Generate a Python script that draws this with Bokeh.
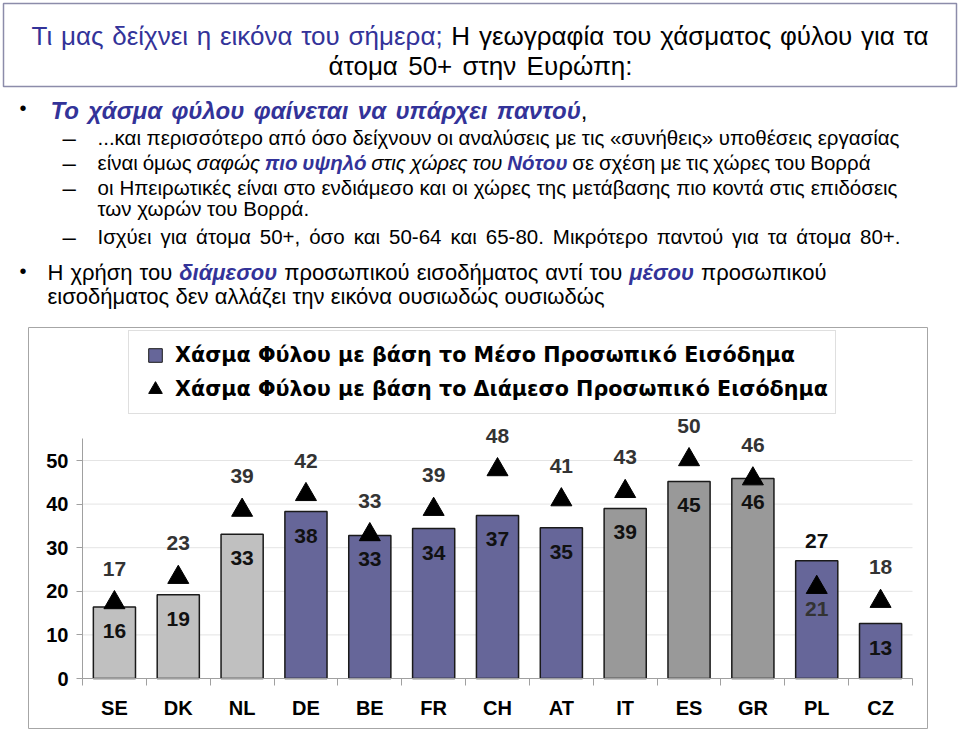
import numpy as np
from bokeh.plotting import figure
from bokeh.layouts import column
from bokeh.models import (ColumnDataSource, Range1d, LinearAxis, FixedTicker,
                          Legend, LegendItem, CustomJSTransform)
from bokeh.transform import transform
from bokeh.core.properties import value, field
from bokeh.embed import file_html
from bokeh.resources import INLINE

# ---------------- data ----------------
countries = ["SE", "DK", "NL", "DE", "BE", "FR", "CH", "AT", "IT", "ES", "GR", "PL", "CZ"]
groups = ["Βορράς", "Βορράς", "Βορράς",
          "Ηπειρωτικές", "Ηπειρωτικές", "Ηπειρωτικές", "Ηπειρωτικές", "Ηπειρωτικές",
          "Νότος", "Νότος", "Νότος",
          "Μετάβαση", "Μετάβαση"]
gap_mean_income = [16.4, 19.2, 33.1, 38.3, 32.8, 34.4, 37.4, 34.6, 39.0, 45.2, 45.9, 27.0, 12.6]
gap_median_income = [17.4, 23.2, 38.6, 42.2, 33.0, 38.8, 47.9, 41.0, 42.9, 50.2, 45.8, 20.9, 17.7]
y_ticks = [0, 10, 20, 30, 40, 50]
legend_labels = ["Χάσμα Φύλου με βάση το Μέσο Προσωπικό Εισόδημα",
                 "Χάσμα Φύλου με βάση το Διάμεσο Προσωπικό Εισόδημα"]

GROUP_COLORS = {"Βορράς": "#C0C0C0", "Ηπειρωτικές": "#666699",
                "Νότος": "#999999", "Μετάβαση": "#666699"}

# ---------------- page geometry ----------------
W = 960
HEAD_H = 326
CHART_H = 403
FONT = "Liberation Sans"
BLUE = "#333399"

# ---------------- header (title + bullets) ----------------
STYLES = {"n": ("normal", "#000000"), "i": ("italic", "#000000"),
          "bi": ("bold italic", BLUE), "tb": ("normal", BLUE)}

header_lines = [
    # left, right (None = natural width), y, size, parts
    (31, 928, 35, 26, [("Τι μας δείχνει η εικόνα του σήμερα;", "tb"),
                       (" Η γεωγραφία του χάσματος φύλου για τα", "n")]),
    (328, 632, 65, 26, [("άτομα 50+ στην Ευρώπη:", "n")]),
    (19, None, 107, 20, [("•", "n")]),
    (50, 587, 110, 24, [("Το χάσμα φύλου φαίνεται να υπάρχει παντού", "bi"), (",", "n")]),
    (62, None, 137, 24, [("–", "n")]),
    (97, 899, 137, 20.5,
     [("...και περισσότερο από όσο δείχνουν οι αναλύσεις με τις «συνήθεις» υποθέσεις εργασίας", "n")]),
    (62, None, 162, 24, [("–", "n")]),
    (97, 870, 162, 20.5,
     [("είναι όμως", "n"), (" σαφώς", "i"), (" πιο υψηλό", "bi"),
      (" στις χώρες του", "i"), (" Νότου", "bi"),
      (" σε σχέση με τις χώρες του Βορρά", "n")]),
    (62, None, 187, 24, [("–", "n")]),
    (97, 897, 187, 20.5,
     [("οι Ηπειρωτικές είναι στο ενδιάμεσο και οι χώρες της μετάβασης πιο κοντά στις επιδόσεις", "n")]),
    (97, None, 208, 20.5, [("των χωρών του Βορρά.", "n")]),
    (62, None, 236, 24, [("–", "n")]),
    (97, 900, 236, 20.5,
     [("Ισχύει για άτομα 50+, όσο και 50-64 και 65-80. Μικρότερο παντού για τα άτομα 80+.", "n")]),
    (19, None, 270, 20, [("•", "n")]),
    (47, 826, 272, 22,
     [("Η χρήση του", "n"), (" διάμεσου", "bi"), (" προσωπικού εισοδήματος αντί του", "n"),
      (" μέσου", "bi"), (" προσωπικού", "n")]),
    (47, 604, 296, 22,
     [("εισοδήματος δεν αλλάζει την εικόνα ουσιωδώς ουσιωδώς", "n")]),
]

cols = dict(text=[], x0=[], y=[], size=[], fsize=[], fstyle=[], color=[],
            lid=[], sp=[], jw=[])
for lid, (xl, xr, yp, size, parts) in enumerate(header_lines):
    for txt, sk in parts:
        fs, colr = STYLES[sk]
        lead = txt.startswith(" ")
        for k, tok in enumerate(t for t in txt.split(" ") if t):
            cols["text"].append(tok)
            cols["x0"].append(xl)
            cols["y"].append(yp)
            cols["size"].append(size)
            cols["fsize"].append(f"{size}px")
            cols["fstyle"].append(fs)
            cols["color"].append(colr)
            cols["lid"].append(lid)
            cols["sp"].append(1 if (k > 0 or lead) else 0)
            cols["jw"].append((xr - xl) if xr else 0)
hsrc = ColumnDataSource(cols)

# lays the styled words of every line one after another (measured in the browser),
# spreading word gaps so that a line reaches its given width
layout_js = """
const d = src.data;
const n = d.text.length;
const out = new Float64Array(n);
const c = document.createElement('canvas').getContext('2d');
function w(k, s) {
  c.font = d.fstyle[k] + ' ' + d.size[k] + 'px "Liberation Sans"';
  return c.measureText(s).width;
}
let i = 0;
while (i < n) {
  let j = i;
  while (j < n && d.lid[j] == d.lid[i]) j++;
  const tw = [], sw = [];
  let total = 0, nsp = 0;
  for (let k = i; k < j; k++) {
    const a = w(k, d.text[k]);
    const b = d.sp[k] ? w(k, ' ') : 0;
    tw.push(a); sw.push(b); total += a + b;
    if (d.sp[k]) nsp++;
  }
  let x = d.x0[i];
  let extra = 0;
  if (d.jw[i] > 0 && nsp > 0) extra = (d.jw[i] - total) / nsp;
  for (let k = i; k < j; k++) {
    if (d.sp[k]) x += sw[k - i] + extra;
    out[k] = x;
    x += tw[k - i];
  }
  i = j;
}
return out;
"""

hp = figure(width=W, height=HEAD_H, x_range=Range1d(0, W), y_range=Range1d(HEAD_H, 0),
            output_backend="svg", toolbar_location=None,
            x_axis_location=None, y_axis_location=None,
            min_border=0, min_border_left=0, min_border_right=0,
            min_border_top=0, min_border_bottom=0)
hp.grid.visible = False
hp.outline_line_color = None
hp.background_fill_color = "white"
hp.border_fill_color = "white"

# title frame
hp.quad(left=3, right=956, top=3, bottom=86, fill_color=None,
        line_color="#8C8CAA", line_width=1.5)

hp.text(x=transform("x0", CustomJSTransform(args=dict(src=hsrc), v_func=layout_js)),
        y="y", text="text", source=hsrc,
        text_font=value(FONT), text_font_size=field("fsize"),
        text_font_style=field("fstyle"), text_color="color",
        text_align="left", text_baseline="middle")

# ---------------- chart ----------------
n = len(countries)
xc = list(range(n))

# pixel layout (page coordinates); the chart figure spans page y 326..729
chart_top = HEAD_H
chart_bot = HEAD_H + CHART_H
plot_l, plot_r = 82, 912
y0_px, y50_px = 678, 460
sx = (plot_r - plot_l) / n
sy = (y0_px - y50_px) / 50.0
x_start = -0.5 - plot_l / sx
x_end = n - 0.5 + (W - plot_r) / sx
y_start = -(chart_bot - y0_px) / sy
y_end = (y0_px - chart_top) / sy

def X(px):
    return x_start + px / sx

def Y(py):
    return y_start + (chart_bot - py) / sy

p = figure(width=W, height=CHART_H,
           x_range=Range1d(x_start, x_end), y_range=Range1d(y_start, y_end),
           output_backend="svg", toolbar_location=None,
           x_axis_location=None, y_axis_location=None,
           min_border=0, min_border_left=0, min_border_right=0,
           min_border_top=0, min_border_bottom=0)
p.grid.visible = False
p.outline_line_color = None
p.background_fill_color = "white"
p.border_fill_color = "white"

# chart frame
p.quad(left=X(28), right=X(927), top=Y(327), bottom=Y(728),
       fill_color=None, line_color="#A6A6A6", line_width=1)

# light horizontal gridlines
p.segment(x0=-0.5, x1=n - 0.5, y0=y_ticks[1:], y1=y_ticks[1:],
          line_color="#E4E4E4", line_width=1)

mean_lbl = [f"{round(v)}" for v in gap_mean_income]
med_lbl = [f"{round(v)}" for v in gap_median_income]
flip = {"PL"}   # labels drawn on the other side
mean_dy = [-20 if c in flip else 24 for c in countries]
med_dy = [22 if c in flip else -34 for c in countries]

src = ColumnDataSource(dict(
    x=xc, country=countries, mean=gap_mean_income, med=gap_median_income,
    color=[GROUP_COLORS[g] for g in groups],
    mean_lbl=mean_lbl, med_lbl=med_lbl, mean_dy=mean_dy, med_dy=med_dy))

# legend proxy for the bars (zero-size markers hidden under the bar tops)
proxy = p.scatter(x="x", y="mean", source=src, marker="square", size=0,
                  fill_color=GROUP_COLORS["Ηπειρωτικές"], line_color="#1A1A1A")

bars = p.vbar(x="x", top="mean", bottom=0, width=0.66, source=src,
              fill_color="color", line_color="#1A1A1A", line_width=1.5)
tri = p.scatter(x="x", y="med", marker="triangle", size=21, source=src,
                fill_color="black", line_color="black")

p.text(x="x", y="mean", text="mean_lbl", y_offset="mean_dy", source=src,
       text_font=value(FONT), text_font_size="21px", text_font_style="bold",
       text_color="#111111", text_align="center", text_baseline="middle")
p.text(x="x", y="med", text="med_lbl", y_offset="med_dy", source=src,
       text_font=value(FONT), text_font_size="21px", text_font_style="bold",
       text_color="#333333", text_align="center", text_baseline="middle")

# axes
yax = LinearAxis(ticker=FixedTicker(ticks=y_ticks), fixed_location=-0.5, bounds=(0, 55))
yax.axis_line_color = "#A0A0A0"
yax.major_tick_line_color = "#A0A0A0"
yax.major_tick_out = 6
yax.major_tick_in = 0
yax.minor_tick_line_color = None
yax.major_label_text_font = FONT
yax.major_label_text_font_size = "20px"
yax.major_label_text_font_style = "bold"
yax.major_label_text_color = "black"
yax.major_label_standoff = 8
p.add_layout(yax, "left")

xax = LinearAxis(ticker=FixedTicker(ticks=xc, minor_ticks=[i - 0.5 for i in range(n + 1)]),
                 fixed_location=0, bounds=(-0.5, n - 0.5))
xax.major_label_overrides = {i: c for i, c in zip(xc, countries)}
xax.axis_line_color = "#A0A0A0"
xax.major_tick_line_color = None
xax.major_tick_in = 0
xax.major_tick_out = 0
xax.minor_tick_line_color = "#A0A0A0"
xax.minor_tick_in = 0
xax.minor_tick_out = 7
xax.major_label_text_font = FONT
xax.major_label_text_font_size = "20px"
xax.major_label_text_font_style = "bold"
xax.major_label_text_color = "black"
xax.major_label_standoff = 11
p.add_layout(xax, "below")

# legend
leg = Legend(items=[LegendItem(label=legend_labels[0], renderers=[proxy]),
                    LegendItem(label=legend_labels[1], renderers=[tri])],
             location=(128, chart_bot - 414))
leg.glyph_width = 38
leg.glyph_height = 34
leg.spacing = 0
leg.padding = 7
leg.margin = 0
leg.label_standoff = 1
leg.label_text_font = "DejaVu Sans"
leg.label_text_font_style = "bold"
leg.label_text_font_size = "20.7px"
leg.label_text_color = "black"
leg.border_line_color = "#BFBFBF"
leg.border_line_width = 1
leg.background_fill_color = "white"
leg.background_fill_alpha = 1
p.add_layout(leg)

page = column(hp, p, spacing=0)
open("out.html", "w").write(file_html(page, INLINE, title="Χάσμα φύλου"))
